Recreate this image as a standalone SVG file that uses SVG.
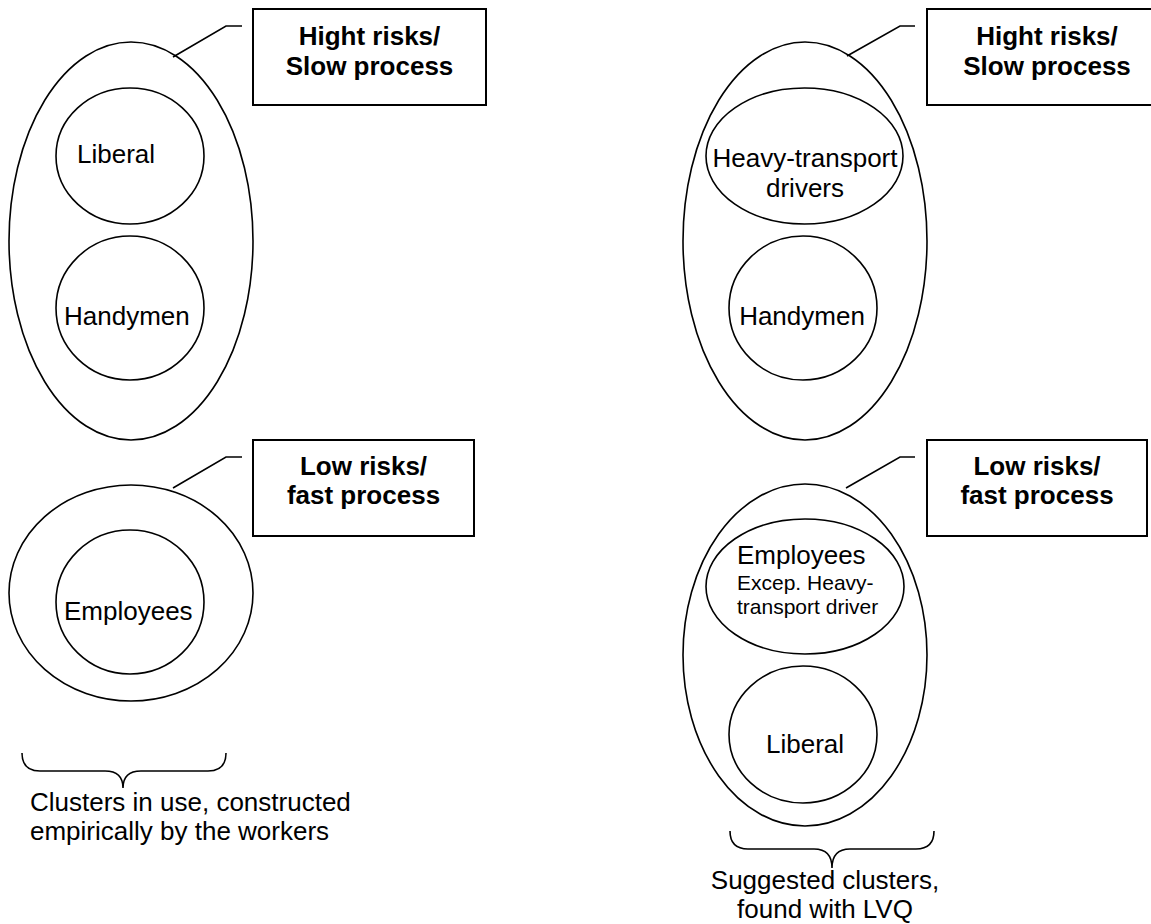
<svg xmlns="http://www.w3.org/2000/svg" width="1151" height="924" viewBox="0 0 1151 924">
<style>
.sh{fill:none;stroke:#000;stroke-width:1.6}
.bx{fill:#fff;stroke:#000;stroke-width:2}
.t{font-family:"Liberation Sans",Arial,sans-serif;font-size:26px;fill:#000}
.s{font-family:"Liberation Sans",Arial,sans-serif;font-size:21px;fill:#000}
.b{font-family:"Liberation Sans",Arial,sans-serif;font-size:26px;font-weight:bold;fill:#000;text-anchor:middle}
.m{text-anchor:middle}
.ln{fill:none;stroke:#000;stroke-width:1.6}
</style>
<rect width="1151" height="924" fill="#fff"/>
<g id="connectors">
<polyline class="ln" points="173,57 226,26 242,26"/>
<polyline class="ln" points="173,488 226,457 242,457"/>
<polyline class="ln" points="847,56 900,26 915,26"/>
<polyline class="ln" points="846,488 900,457 915,457"/>
</g>
<g id="left-high">
<ellipse class="sh" cx="131" cy="241" rx="122" ry="199"/>
</g>
<g id="left-liberal">
<ellipse class="sh" cx="130" cy="156" rx="74" ry="68"/>
<text class="t" x="77" y="163">Liberal</text>
</g>
<g id="left-handymen">
<ellipse class="sh" cx="130" cy="308" rx="74" ry="72"/>
<text class="t" x="64" y="325">Handymen</text>
</g>
<g id="left-low">
<ellipse class="sh" cx="131" cy="593" rx="122" ry="108"/>
</g>
<g id="left-employees">
<ellipse class="sh" cx="130" cy="602" rx="74" ry="72"/>
<text class="t" x="64" y="620">Employees</text>
</g>
<g id="box-left-high">
<rect class="bx" x="253" y="9" width="233" height="96"/>
<text class="b" x="369.5" y="45">Hight risks/</text>
<text class="b" x="369.5" y="75">Slow process</text>
</g>
<g id="box-left-low">
<rect class="bx" x="253" y="440" width="221" height="96"/>
<text class="b" x="363.5" y="475">Low risks/</text>
<text class="b" x="363.5" y="504">fast process</text>
</g>
<g id="brace-left">
<path class="ln" d="M22,753 Q22,771 40,771 L105,771 Q123,771 123,788 Q123,771 141,771 L208,771 Q226,771 226,753"/>
<text class="t" x="30" y="811">Clusters in use, constructed</text>
<text class="t" x="30" y="840">empirically by the workers</text>
</g>
<g id="right-high">
<ellipse class="sh" cx="805" cy="241" rx="122" ry="199"/>
</g>
<g id="right-heavy">
<ellipse class="sh" cx="804.5" cy="156" rx="98.5" ry="68"/>
<text class="t m" x="805" y="167">Heavy-transport</text>
<text class="t m" x="805" y="197">drivers</text>
</g>
<g id="right-handymen">
<ellipse class="sh" cx="803" cy="308" rx="74" ry="72"/>
<text class="t m" x="802" y="325">Handymen</text>
</g>
<g id="right-low">
<ellipse class="sh" cx="805" cy="655" rx="122" ry="171"/>
</g>
<g id="right-employees">
<ellipse class="sh" cx="805" cy="586.5" rx="99" ry="67.5"/>
<text class="t" x="737" y="564">Employees</text>
<text class="s" x="737" y="590">Excep. Heavy-</text>
<text class="s" x="737" y="614">transport driver</text>
</g>
<g id="right-liberal">
<ellipse class="sh" cx="803" cy="734.5" rx="74" ry="68.5"/>
<text class="t m" x="805" y="753">Liberal</text>
</g>
<g id="box-right-high">
<rect class="bx" x="927" y="9" width="233" height="96"/>
<text class="b" x="1047" y="45">Hight risks/</text>
<text class="b" x="1047" y="75">Slow process</text>
</g>
<g id="box-right-low">
<rect class="bx" x="927" y="440" width="220" height="96"/>
<text class="b" x="1037" y="475">Low risks/</text>
<text class="b" x="1037" y="504">fast process</text>
</g>
<g id="brace-right">
<path class="ln" d="M730,831 Q730,849 748,849 L814,849 Q832,849 832,868 Q832,849 850,849 L916,849 Q934,849 934,831"/>
<text class="t m" x="825" y="889">Suggested clusters,</text>
<text class="t m" x="825" y="918">found with LVQ</text>
</g>
</svg>
